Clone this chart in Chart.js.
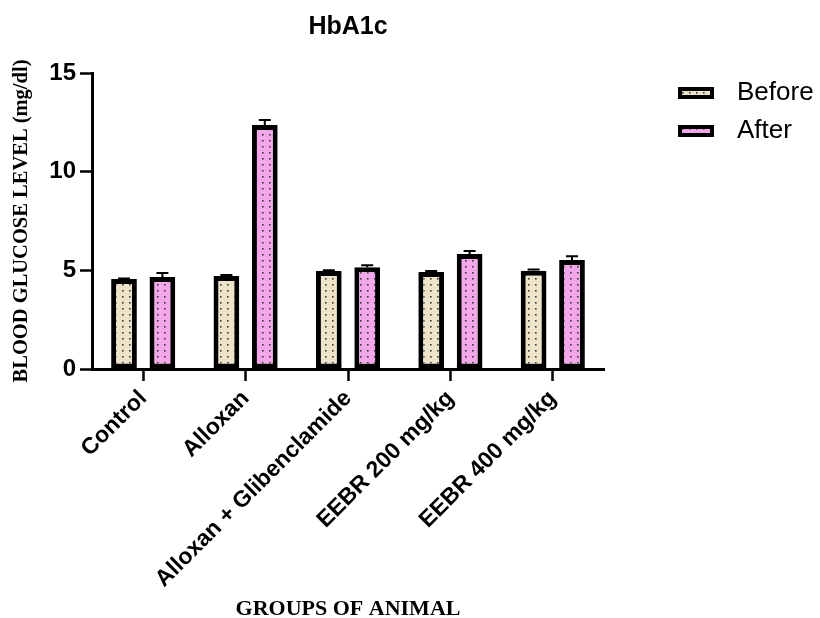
<!DOCTYPE html>
<html>
<head>
<meta charset="utf-8">
<script src="https://cdn.jsdelivr.net/npm/chart.js@4.4.1/dist/chart.umd.min.js"></script>
<style>
  html, body { margin: 0; padding: 0; background: #fff; }
  #wrap { width: 820px; height: 618px; }
</style>
</head>
<body>
<div id="wrap"><canvas id="hba1cChart" width="820" height="618"></canvas></div>
<script>
const groups = ["Control", "Alloxan", "Alloxan + Glibenclamide", "EEBR 200 mg/kg", "EEBR 400 mg/kg"];
const beforeValues = [4.56, 4.71, 4.96, 4.92, 4.98];
const beforeErrors = [0.03, 0.05, 0.04, 0.04, 0.06];
const afterValues = [4.66, 12.37, 5.16, 5.83, 5.52];
const afterErrors = [0.2, 0.25, 0.1, 0.15, 0.2];
const yTicks = [0, 5, 10, 15];

function dotPattern(bg) {
  const c = document.createElement("canvas");
  c.width = 7;
  c.height = 6;
  const g = c.getContext("2d");
  g.fillStyle = bg;
  g.fillRect(0, 0, 7, 6);
  g.fillStyle = "#3a3a3a";
  g.fillRect(3, 2, 1.6, 1.6);
  return g.createPattern(c, "repeat");
}

// upward error bars with caps, like the GraphPad original
const errorBars = {
  id: "errorBars",
  afterDatasetsDraw(chart) {
    const ctx = chart.ctx;
    const yScale = chart.scales.y;
    ctx.save();
    ctx.strokeStyle = "#000";
    ctx.lineWidth = 2;
    chart.data.datasets.forEach((ds, i) => {
      const meta = chart.getDatasetMeta(i);
      meta.data.forEach((bar, j) => {
        const top = yScale.getPixelForValue(ds.data[j] + ds.errors[j]);
        ctx.beginPath();
        ctx.moveTo(bar.x, bar.y);
        ctx.lineTo(bar.x, top);
        ctx.moveTo(bar.x - 6, top);
        ctx.lineTo(bar.x + 6, top);
        ctx.stroke();
      });
    });
    ctx.restore();
  }
};

// legend at the right, away from the plot
const sideLegend = {
  id: "sideLegend",
  afterDraw(chart) {
    const ctx = chart.ctx;
    ctx.save();
    chart.data.datasets.forEach((ds, i) => {
      const y = 93 + i * 38;
      ctx.fillStyle = ds.backgroundColor;
      ctx.fillRect(678, y - 6, 36, 12);
      ctx.strokeStyle = "#000";
      ctx.lineWidth = 4;
      ctx.strokeRect(680, y - 4, 32, 8);
      ctx.fillStyle = "#000";
      ctx.font = "26px 'Liberation Sans', Arial, sans-serif";
      ctx.textBaseline = "middle";
      ctx.textAlign = "left";
      ctx.fillText(ds.label, 737, y);
    });
    ctx.restore();
  }
};

const ctx = document.getElementById("hba1cChart").getContext("2d");

new Chart(ctx, {
  type: "bar",
  data: {
    labels: groups,
    datasets: [
      {
        label: "Before",
        data: beforeValues,
        errors: beforeErrors,
        backgroundColor: dotPattern("#ede4c9"),
        borderColor: "#000",
        borderWidth: 5,
        borderSkipped: false,
      },
      {
        label: "After",
        data: afterValues,
        errors: afterErrors,
        backgroundColor: dotPattern("#f3a6ea"),
        borderColor: "#000",
        borderWidth: 5,
        borderSkipped: false,
      },
    ],
  },
  options: {
    responsive: false,
    animation: false,
    devicePixelRatio: 1,
    categoryPercentage: 0.75,
    barPercentage: 0.67,
    layout: {
      padding: { left: 0, right: 216, top: 0, bottom: 0 },
    },
    plugins: {
      legend: { display: false },
      tooltip: { enabled: false },
      title: {
        display: true,
        fullSize: false,
        text: "HbA1c",
        color: "#000",
        font: { family: "'Liberation Sans', Arial, sans-serif", size: 25, weight: "bold" },
        padding: { top: 12, bottom: 31 },
      },
    },
    scales: {
      x: {
        grid: {
          offset: false,
          drawOnChartArea: false,
          drawTicks: true,
          tickLength: 12,
          tickWidth: 2.5,
          tickColor: "#000",
        },
        border: { display: true, color: "#000", width: 3 },
        ticks: {
          color: "#000",
          minRotation: 45,
          maxRotation: 45,
          padding: 4,
          font: { family: "'Liberation Sans', Arial, sans-serif", size: 23, weight: "bold" },
        },
        title: {
          display: true,
          text: "GROUPS OF ANIMAL",
          color: "#000",
          font: { family: "'Liberation Serif', 'Times New Roman', serif", size: 22, weight: "bold", lineHeight: 0.8 },
          padding: { top: 0, bottom: 0 },
        },
        afterFit(scale) {
          scale.height = 249;
        },
      },
      y: {
        min: 0,
        max: 15,
        afterBuildTicks(scale) {
          scale.ticks = yTicks.map(v => ({ value: v }));
        },
        grid: {
          drawOnChartArea: false,
          drawTicks: true,
          tickLength: 12,
          tickWidth: 2.5,
          tickColor: "#000",
        },
        border: { display: true, color: "#000", width: 3 },
        ticks: {
          color: "#000",
          padding: 4,
          font: { family: "'Liberation Sans', Arial, sans-serif", size: 24, weight: "bold" },
        },
        title: {
          display: true,
          text: "BLOOD GLUCOSE LEVEL (mg/dl)",
          color: "#000",
          font: { family: "'Liberation Serif', 'Times New Roman', serif", size: 20.5, weight: "bold" },
          padding: { top: 9, bottom: 0 },
        },
        afterFit(scale) {
          scale.width = 92;
        },
      },
    },
  },
  plugins: [errorBars, sideLegend],
});
</script>
</body>
</html>
